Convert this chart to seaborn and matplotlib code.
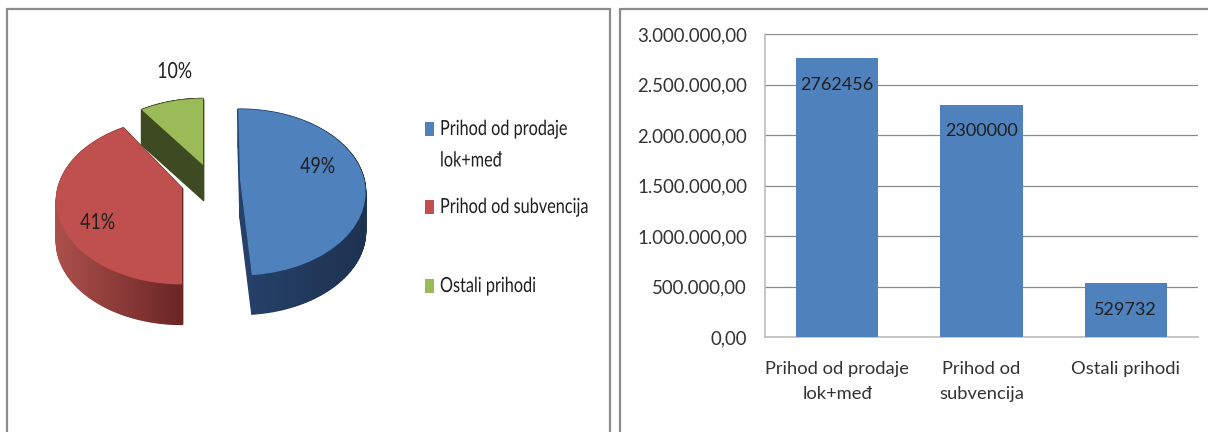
import numpy as np
import pandas as pd
import matplotlib
matplotlib.use('Agg')
import matplotlib.pyplot as plt
from matplotlib.collections import PolyCollection
from matplotlib.patches import Rectangle
from matplotlib.patheffects import AbstractPathEffect
from matplotlib.ticker import FuncFormatter
from matplotlib.transforms import Affine2D, Transform
import seaborn as sns

# values
pie_names = ['Prihod od prodaje\nlok+međ', 'Prihod od subvencija', 'Ostali prihodi']
pie_share = [49, 41, 10]
pie_colors = ['#4F81BD', '#C0504D', '#9BBB59']
bar_names = ['Prihod od prodaje\nlok+međ', 'Prihod od\nsubvencija', 'Ostali prihodi']
bar_values = [2762456, 2300000, 529732]
y_ticks = [0, 500000, 1000000, 1500000, 2000000, 2500000, 3000000]

# pie drawing: tip position, radius, turn of each slice and wall colours
tips = [(240, 179), (182, 188), (203, 165)]
radii = [124, 124, 118]
turns = [1, -3.6, 0]
depths = [39, 40, 35]
wall_left = [(37, 66, 107), (172, 80, 76), (62, 74, 34)]
wall_right = [(30, 50, 80), (108, 38, 38), (62, 74, 34)]
pct_pos = [(322, 167), (102, 223), (179, 72)]
legend_y = [129, 207, 286]
SQUASH = 81 / 124
PERSP = 0.16
TEXT = '#1f1f1f'

sns.set_theme(style='white')
plt.rcParams['font.family'] = ['Lato', 'DejaVu Sans']


def warp(xy, tip, r):
    # unit pie seen from above, far side smaller
    x, y = xy[:, 0], xy[:, 1]
    d = 1 + PERSP * y
    return np.column_stack([tip[0] + r * x / d, tip[1] - r * SQUASH * y / d])


class PieWarp(Transform):
    input_dims = 2
    output_dims = 2
    has_inverse = False

    def __init__(self, tip, r):
        super().__init__()
        self.tip = tip
        self.r = r

    def transform_non_affine(self, values):
        return warp(np.asarray(values), self.tip, self.r)


class Squeeze(AbstractPathEffect):
    # the left panel text is narrower than any installed font
    def __init__(self, sx):
        super().__init__()
        self.sx = sx

    def draw_path(self, renderer, gc, tpath, affine, rgbFace=None):
        renderer.draw_path(gc, tpath, Affine2D().scale(self.sx, 1) + affine, rgbFace)


fig = plt.figure(figsize=(12.08, 4.32), dpi=100)

# background axes in pixels, holds the pie and the two frames
ax = fig.add_axes([0, 0, 1, 1])
wedges, _, autotexts = ax.pie(pie_share, colors=pie_colors, startangle=90, counterclock=False,
                              autopct='%.0f%%', labeldistance=None, wedgeprops={'linewidth': 0},
                              textprops={'fontsize': 16, 'color': TEXT})
ax.set_aspect('auto')
ax.set_xlim(0, 1208)
ax.set_ylim(432, 0)
ax.axis('off')

for i, w in enumerate(wedges):
    w.set_theta1(w.theta1 + turns[i])
    w.set_theta2(w.theta2 + turns[i])
    t = np.radians(np.linspace(w.theta1, w.theta2, 150))
    unit = np.vstack([[0, 0], np.column_stack([np.cos(t), np.sin(t)]), [0, 0]])
    top = warp(unit, tips[i], radii[i])
    # side wall as thin quads, colour runs from left to right
    quads = []
    cols = []
    span = max(top[:, 0].max() - top[:, 0].min(), 1)
    for a, b in zip(top[:-1], top[1:]):
        quads.append([a, b, b + [0, depths[i]], a + [0, depths[i]]])
        f = ((a[0] + b[0]) / 2 - top[:, 0].min()) / span
        cols.append((np.array(wall_left[i]) * (1 - f) + np.array(wall_right[i]) * f) / 255)
    ax.add_collection(PolyCollection(quads, facecolors=cols, edgecolors=cols, linewidths=1.0, zorder=1))
    w.set_transform(PieWarp(tips[i], radii[i]) + ax.transData)
    w.set_zorder(2)
    autotexts[i].set_position(pct_pos[i])
    autotexts[i].set_ha('center')
    autotexts[i].set_va('center')
    autotexts[i].set_zorder(3)
    autotexts[i].set_path_effects([Squeeze(0.8)])

# frames of the two panels, open at the bottom
ax.plot([7, 7, 610, 610], [432, 9, 9, 432], color='#8c8c8c', lw=1.6, clip_on=False, solid_joinstyle='miter')
ax.plot([620, 620, 1208], [432, 9, 9], color='#8c8c8c', lw=1.6, clip_on=False, solid_joinstyle='miter')

# legend of the pie
for y, name, c in zip(legend_y, pie_names, pie_colors):
    ax.add_patch(Rectangle((425, y - 7), 9, 14, color=c, lw=0))
    ax.text(440, y - 10, name, fontsize=15, color=TEXT, va='top', ha='left', linespacing=1.72,
            path_effects=[Squeeze(0.78)])

# bar chart
bar_ax = fig.add_axes([765 / 1208, 1 - 337 / 432, 433 / 1208, 303 / 432])
bar_ax.patch.set_alpha(0)
df = pd.DataFrame({'name': bar_names, 'value': bar_values})
sns.barplot(data=df, x='name', y='value', color='#4F81BD', saturation=1, width=0.57, ax=bar_ax,
            zorder=3, linewidth=0)
bar_ax.set_ylim(0, 3000000)
bar_ax.set_yticks(y_ticks)
bar_ax.yaxis.set_major_formatter(FuncFormatter(
    lambda v, p: f'{v:,.2f}'.replace(',', ' ').replace('.', ',').replace(' ', '.')))
bar_ax.set_xlabel('')
bar_ax.set_ylabel('')
bar_ax.grid(axis='y', color='#8a8a8a', lw=0.9)
bar_ax.set_axisbelow(True)
for s in ['top', 'right']:
    bar_ax.spines[s].set_visible(False)
for s in ['left', 'bottom']:
    bar_ax.spines[s].set_color('#bdbdbd')
    bar_ax.spines[s].set_linewidth(1.2)
bar_ax.tick_params(axis='y', length=0, pad=13, labelsize=13.4, labelcolor='#333333')
bar_ax.tick_params(axis='x', length=0, pad=17, labelsize=13.2, labelcolor='#333333')
for lab in bar_ax.get_xticklabels():
    lab.set_linespacing(1.7)
bar_ax.bar_label(bar_ax.containers[0], labels=[str(v) for v in bar_values], padding=-25,
                 fontsize=13, color=TEXT, zorder=4)

fig.savefig('out.png', dpi=100)
